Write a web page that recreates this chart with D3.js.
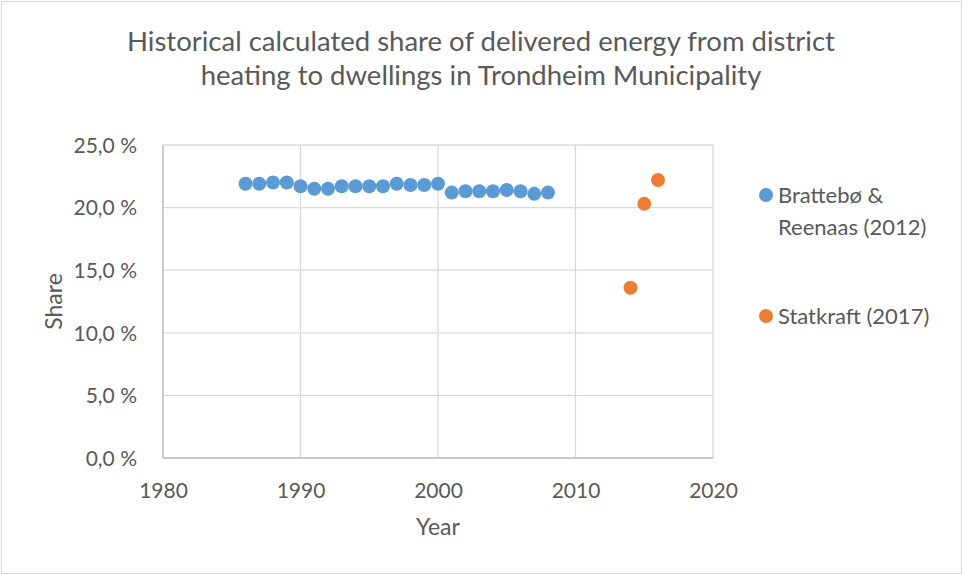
<!DOCTYPE html>
<html>
<head>
<meta charset="utf-8">
<script src="https://cdn.jsdelivr.net/npm/d3@7"></script>
<style>
  body { margin: 0; background: #fff; }
  text { font-family: Lato, "Open Sans", sans-serif; fill: #595959; }
</style>
</head>
<body>
<div id="chart"></div>
<script>
// Series 1: Brattebø & Reenaas (2012)
const years1 = [1986, 1987, 1988, 1989, 1990, 1991, 1992, 1993, 1994, 1995, 1996, 1997,
                1998, 1999, 2000, 2001, 2002, 2003, 2004, 2005, 2006, 2007, 2008];
const share1 = [21.9, 21.9, 22.0, 22.0, 21.7, 21.5, 21.5, 21.7, 21.7, 21.7, 21.7, 21.9,
                21.8, 21.8, 21.9, 21.2, 21.3, 21.3, 21.3, 21.4, 21.3, 21.1, 21.2];
// Series 2: Statkraft (2017)
const years2 = [2014, 2015, 2016];
const share2 = [13.6, 20.3, 22.2];

const seriesNames = [["Brattebø &", "Reenaas (2012)"], ["Statkraft (2017)"]];
const xTicks = [1980, 1990, 2000, 2010, 2020];
const yTicks = [0, 5, 10, 15, 20, 25];

const W = 963, H = 575;
const m = { top: 145, right: 250, bottom: 117, left: 163 };
const colors = ["#5B9BD5", "#ED7D31"];

const svg = d3.select("#chart").append("svg")
  .attr("width", W).attr("height", H);

// outer chart border
svg.append("rect")
  .attr("x", 1.5).attr("y", 1.5)
  .attr("width", W - 3).attr("height", H - 3)
  .attr("fill", "#fff").attr("stroke", "#D9D9D9");

const x = d3.scaleLinear().domain([1980, 2020]).range([m.left, W - m.right]);
const y = d3.scaleLinear().domain([0, 25]).range([H - m.bottom, m.top]);

// gridlines
svg.append("g").selectAll("line.h").data(yTicks).enter().append("line")
  .attr("x1", x(1980)).attr("x2", x(2020))
  .attr("y1", d => y(d)).attr("y2", d => y(d))
  .attr("stroke", "#D9D9D9").attr("stroke-width", 1.3);
svg.append("g").selectAll("line.v").data(xTicks).enter().append("line")
  .attr("x1", d => x(d)).attr("x2", d => x(d))
  .attr("y1", y(0)).attr("y2", y(25))
  .attr("stroke", "#D9D9D9").attr("stroke-width", 1.3);

// axis lines
svg.append("line").attr("x1", x(1980)).attr("x2", x(2020))
  .attr("y1", y(0)).attr("y2", y(0)).attr("stroke", "#BFBFBF").attr("stroke-width", 1.3);
svg.append("line").attr("x1", x(1980)).attr("x2", x(1980))
  .attr("y1", y(0)).attr("y2", y(25)).attr("stroke", "#BFBFBF").attr("stroke-width", 1.3);

// axes (labels only)
const fmt = d => d.toFixed(1).replace(".", ",") + " %";
const yAxis = svg.append("g")
  .attr("transform", "translate(" + (m.left - 23) + ",0)")
  .call(d3.axisLeft(y).tickValues(yTicks).tickFormat(fmt).tickSize(0));
const xAxis = svg.append("g")
  .attr("transform", "translate(0," + (y(0) + 22) + ")")
  .call(d3.axisBottom(x).tickValues(xTicks).tickFormat(d3.format("d")).tickSize(0));
[xAxis, yAxis].forEach(a => {
  a.select(".domain").remove();
  a.selectAll("text").attr("font-size", 21).style("font-family", "Lato, sans-serif").attr("fill", "#595959");
});
yAxis.selectAll("text").attr("dy", "0.35em");

// points
svg.append("g").selectAll("circle").data(years1).enter().append("circle")
  .attr("cx", d => x(d)).attr("cy", (d, i) => y(share1[i]))
  .attr("r", 7).attr("fill", colors[0]);
svg.append("g").selectAll("circle").data(years2).enter().append("circle")
  .attr("cx", d => x(d)).attr("cy", (d, i) => y(share2[i]))
  .attr("r", 7).attr("fill", colors[1]);

// title
const title = svg.append("text").attr("text-anchor", "middle").attr("font-size", 27.5);
title.append("tspan").attr("x", 481).attr("y", 51)
  .text("Historical calculated share of delivered energy from district");
title.append("tspan").attr("x", 481).attr("y", 85)
  .text("heating to dwellings in Trondheim Municipality");

// axis titles
svg.append("text").attr("x", (x(1980) + x(2020)) / 2).attr("y", 535)
  .attr("text-anchor", "middle").attr("font-size", 23).text("Year");
svg.append("text").attr("transform", "translate(62," + ((y(0) + y(25)) / 2) + ") rotate(-90)")
  .attr("text-anchor", "middle").attr("font-size", 23).text("Share");

// legend
const legY = [195, 316];
seriesNames.forEach((lines, i) => {
  svg.append("circle").attr("cx", 766).attr("cy", legY[i]).attr("r", 7).attr("fill", colors[i]);
  const t = svg.append("text").attr("font-size", 22);
  lines.forEach((ln, j) => {
    t.append("tspan").attr("x", 778).attr("y", legY[i] + 8 + j * 32).text(ln);
  });
});
</script>
</body>
</html>
